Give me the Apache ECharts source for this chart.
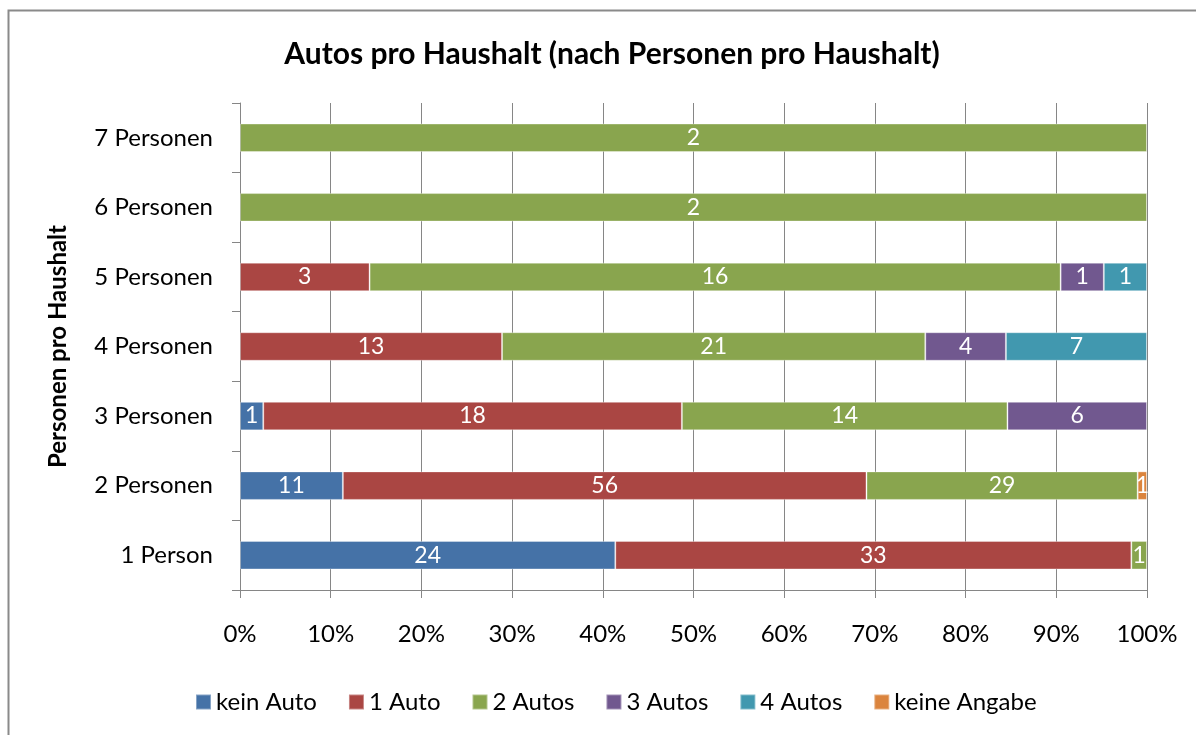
<!DOCTYPE html>
<html>
<head>
<meta charset="utf-8">
<script src="https://cdn.jsdelivr.net/npm/echarts@6/dist/echarts.min.js"></script>
<style>html,body{margin:0;padding:0;background:#fff;}#chart{width:1196px;height:735px;}</style>
</head>
<body>
<div id="chart"></div>
<script>
const categories = ['1 Person', '2 Personen', '3 Personen', '4 Personen', '5 Personen', '6 Personen', '7 Personen'];
const seriesNames = ['kein Auto', '1 Auto', '2 Autos', '3 Autos', '4 Autos', 'keine Angabe'];
const keinAuto    = [24, 11, 1, 0, 0, 0, 0];
const einAuto     = [33, 56, 18, 13, 3, 0, 0];
const zweiAutos   = [1, 29, 14, 21, 16, 2, 2];
const dreiAutos   = [0, 0, 6, 4, 1, 0, 0];
const vierAutos   = [0, 0, 0, 7, 1, 0, 0];
const keineAngabe = [0, 1, 0, 0, 0, 0, 0];
const xTicks = [0, 10, 20, 30, 40, 50, 60, 70, 80, 90, 100];
const colors = ['#4572A7', '#AA4643', '#89A54E', '#71588F', '#4198AF', '#DB843D'];

const raw = [keinAuto, einAuto, zweiAutos, dreiAutos, vierAutos, keineAngabe];
const totals = categories.map((c, i) => raw.reduce((s, arr) => s + arr[i], 0));
const FONT = 'Lato, "Open Sans", sans-serif';

const series = raw.map((arr, si) => ({
  name: seriesNames[si],
  type: 'bar',
  stack: 'total',
  barWidth: '41%',
  itemStyle: { color: colors[si], borderColor: 'rgba(255,255,255,0.35)', borderWidth: 1 },
  label: {
    show: true,
    position: 'inside',
    color: '#fff',
    fontFamily: FONT,
    fontSize: 23,
    formatter: p => arr[p.dataIndex] ? String(arr[p.dataIndex]) : ''
  },
  data: arr.map((v, i) => v ? v / totals[i] * 100 : null)
}));

const chart = echarts.init(document.getElementById('chart'));
chart.setOption({
  animation: false,
  color: colors,
  title: {
    text: 'Autos pro Haushalt (nach Personen pro Haushalt)',
    left: 607, top: 34, textAlign: 'center',
    textStyle: { fontFamily: FONT, fontSize: 30, fontWeight: 'bold', color: '#000' }
  },
  graphic: [{
    type: 'rect', silent: true,
    shape: { x: 8.5, y: 10.5, width: 1300, height: 900 },
    style: { fill: 'none', stroke: '#8a8a8a', lineWidth: 2 }
  }],
  grid: { left: 240, right: 49, top: 103, bottom: 145, containLabel: false },
  legend: {
    bottom: 16, left: 190,
    icon: 'rect', itemWidth: 15, itemHeight: 15, itemGap: 31,
    textStyle: { fontFamily: FONT, fontSize: 24, color: '#000' },
    data: seriesNames
  },
  xAxis: {
    type: 'value', min: 0, max: 100, interval: 10,
    axisLine: { show: true, lineStyle: { color: '#868686', width: 1 } },
    axisTick: { show: true, length: 8, lineStyle: { color: '#868686' } },
    splitLine: { show: true, lineStyle: { color: '#868686', width: 1 } },
    axisLabel: { margin: 32, fontFamily: FONT, fontSize: 24, color: '#000', formatter: v => xTicks.includes(v) ? v + '%' : '' }
  },
  yAxis: {
    type: 'category', data: categories,
    name: 'Personen pro Haushalt', nameLocation: 'middle', nameRotate: 90, nameGap: 170,
    nameTextStyle: { fontFamily: FONT, fontSize: 24, fontWeight: 'bold', color: '#000' },
    axisLine: { show: true, lineStyle: { color: '#868686', width: 1 } },
    axisTick: { show: true, length: 8, lineStyle: { color: '#868686' } },
    axisLabel: { margin: 27, fontFamily: FONT, fontSize: 24, color: '#000' }
  },
  series: series
});
</script>
</body>
</html>
